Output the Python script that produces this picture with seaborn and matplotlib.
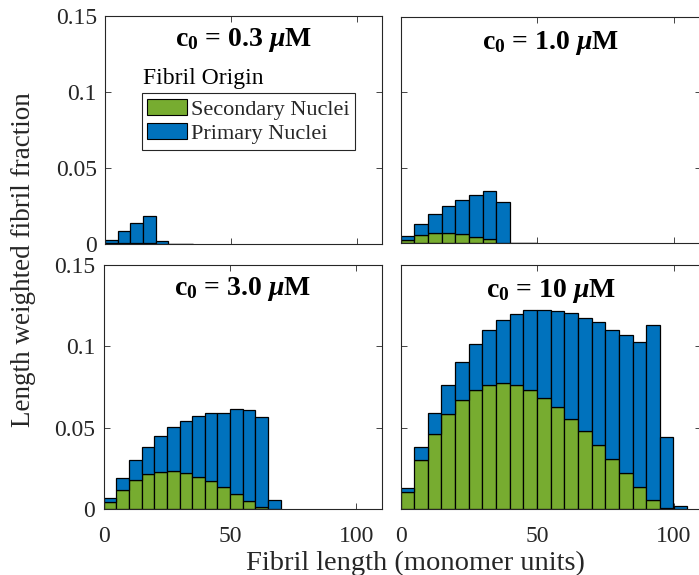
import numpy as np
import pandas as pd
import matplotlib
matplotlib.use("Agg")
import matplotlib.pyplot as plt
from matplotlib.patches import Patch
import seaborn as sns

# ---------------- data ----------------
bin_width = 5
conc_labels = ["0.3", "1.0", "3.0", "10"]

# length-weighted fraction per 5-monomer bin, starting at length 0
primary_03 = [0.0022, 0.0081, 0.0129, 0.0180, 0.0020, 0.0, 0.0]
secondary_03 = [0.0004, 0.0007, 0.0007, 0.0005, 0.0, 0.0, 0.0]

primary_10 = [0.0022, 0.0076, 0.0125, 0.0178, 0.0229, 0.0279, 0.0321, 0.0275, 0.0003, 0.0]
secondary_10 = [0.0022, 0.0051, 0.0068, 0.0068, 0.0059, 0.0042, 0.0024, 0.0, 0.0, 0.0]

primary_30 = [0.0025, 0.0072, 0.0119, 0.0170, 0.0220, 0.0269, 0.0318, 0.0372, 0.0417,
              0.0458, 0.0522, 0.0561, 0.0551, 0.0055]
secondary_30 = [0.0041, 0.0119, 0.0179, 0.0212, 0.0230, 0.0234, 0.0222, 0.0199, 0.0170,
                0.0133, 0.0090, 0.0047, 0.0012, 0.0]

primary_100 = [0.0024, 0.0078, 0.0127, 0.0179, 0.0232, 0.0283, 0.0337, 0.0388, 0.0439,
               0.0491, 0.0544, 0.0596, 0.0649, 0.0697, 0.0758, 0.0795, 0.0848, 0.0896,
               0.1076, 0.0435, 0.0021]
secondary_100 = [0.0103, 0.0302, 0.0462, 0.0585, 0.0671, 0.0731, 0.0764, 0.0772, 0.0762,
                 0.0731, 0.0682, 0.0624, 0.0556, 0.0478, 0.0392, 0.0306, 0.0220, 0.0133,
                 0.0055, 0.0006, 0.0]

primary_sets = [primary_03, primary_10, primary_30, primary_100]
secondary_sets = [secondary_03, secondary_10, secondary_30, secondary_100]

origin_names = ["Secondary Nuclei", "Primary Nuclei"]
origin_colors = {"Secondary Nuclei": "#77AC30", "Primary Nuclei": "#0072BD"}

x_ticks = [0, 50, 100]
x_tick_labels = ["0", "50", "100"]
y_ticks = [0, 0.05, 0.1, 0.15]
y_tick_labels = ["0", "0.05", "0.1", "0.15"]

# ---------------- style ----------------
sns.set_theme(style="ticks")
plt.rcParams["font.family"] = ["Liberation Serif", "DejaVu Serif"]
plt.rcParams["mathtext.fontset"] = "custom"
plt.rcParams["mathtext.rm"] = "Liberation Serif"
plt.rcParams["mathtext.it"] = "Liberation Serif:italic"
plt.rcParams["mathtext.bf"] = "Liberation Serif:bold"
plt.rcParams["mathtext.bfit"] = "Liberation Serif:italic:bold"
plt.rcParams["axes.edgecolor"] = "#262626"
plt.rcParams["axes.linewidth"] = 0.8

W, H = 699, 575
fig = plt.figure(figsize=(W / 100, H / 100), dpi=100)


def px_axes(left, top, right, bottom):
    return fig.add_axes([left / W, 1 - bottom / H, (right - left) / W, (bottom - top) / H])


axes = [
    px_axes(105.3, 15.7, 382.5, 244),
    px_axes(400.7, 16.7, 701.0, 243),
    px_axes(103.7, 264.7, 381.7, 509),
    px_axes(400.5, 265.0, 700.8, 509),
]

title_y = [0.866, 0.858, 0.876, 0.869]

for i, ax in enumerate(axes):
    prim = primary_sets[i]
    sec = secondary_sets[i]
    n = len(prim)
    centers = (np.arange(n) + 0.5) * bin_width
    df = pd.DataFrame({
        "length": np.concatenate([centers, centers]),
        "fraction": np.concatenate([sec, prim]),
        "origin": [origin_names[0]] * n + [origin_names[1]] * n,
    })
    sns.histplot(
        data=df, x="length", weights="fraction", hue="origin",
        hue_order=["Primary Nuclei", "Secondary Nuclei"],
        palette=origin_colors, multiple="stack",
        binwidth=bin_width, binrange=(0, n * bin_width),
        edgecolor="black", linewidth=0.9, alpha=1, legend=False, ax=ax,
    )
    ax.set_xlim(0, 110)
    ax.set_ylim(0, 0.15)
    ax.set_xlabel("")
    ax.set_ylabel("")
    ax.set_xticks(x_ticks)
    ax.set_yticks(y_ticks)
    ax.tick_params(direction="in", length=4, width=0.6, colors="#262626",
                   top=True, right=True, labelsize=17)
    ax.tick_params(axis="x", pad=12)
    ax.tick_params(axis="y", pad=6)
    if i >= 2:
        ax.set_xticklabels(x_tick_labels)
    else:
        ax.set_xticklabels([])
    if i % 2 == 0:
        ax.set_yticklabels(y_tick_labels)
    else:
        ax.set_yticklabels([])
    for s in ax.spines.values():
        s.set_visible(True)
        s.set_color("#262626")
    ax.text(0.5, title_y[i],
            r"$\mathbf{c_0}$ = " + conc_labels[i] + r" $\mathbfit{\mu}$M",
            transform=ax.transAxes, ha="center", va="baseline",
            fontsize=20, fontweight="bold", color="black")

# legend in first panel
handles = [Patch(facecolor=origin_colors[name], edgecolor="black", linewidth=0.8, label=name)
           for name in origin_names]
leg = axes[0].legend(handles=handles, loc="upper left",
                     bbox_to_anchor=(141.7 / W, 1 - 93.3 / H), bbox_transform=fig.transFigure,
                     borderaxespad=0, fontsize=16, frameon=True, fancybox=False,
                     framealpha=1, edgecolor="#262626", handlelength=1.8,
                     handleheight=0.75, handletextpad=0.15, labelspacing=0.15,
                     borderpad=0.25)
leg.get_frame().set_linewidth(0.8)
fig.text(143 / W, 1 - 84 / H, "Fibril Origin", fontsize=17, color="black",
         ha="left", va="baseline")

fig.text(415 / W, 1 - 569.5 / H, "Fibril length (monomer units)", fontsize=20.5,
         ha="center", va="baseline", color="#262626")
fig.text(24 / W, 1 - 260 / H, "Length weighted fibril fraction", fontsize=19.5,
         ha="center", va="center", rotation=90, color="#262626")

fig.savefig("out.png", dpi=100)
